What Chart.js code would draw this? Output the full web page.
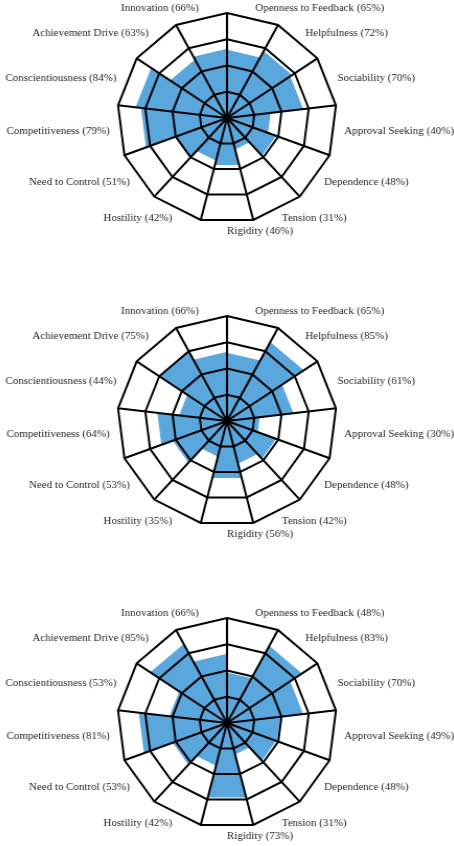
<!DOCTYPE html>
<html>
<head>
<meta charset="utf-8">
<title>Profile sector charts</title>
<script src="https://cdn.jsdelivr.net/npm/chart.js@4.4.0/dist/chart.umd.min.js"></script>
<style>
  html, body { margin: 0; padding: 0; background: #fff; overflow: hidden; }
  .wrap { position: relative; width: 454px; height: 846px; }
  .panel { position: absolute; left: 0; width: 454px; transform: scaleX(1.045); transform-origin: 227px 0; }
  .panel canvas { display: block; }
</style>
</head>
<body>
<div class="wrap">
  <div class="panel" style="top:0px;height:268px"><canvas id="chartTop" width="454" height="268"></canvas></div>
  <div class="panel" style="top:270px;height:300px"><canvas id="chartMiddle" width="454" height="300"></canvas></div>
  <div class="panel" style="top:572px;height:274px"><canvas id="chartBottom" width="454" height="274"></canvas></div>
</div>
<script>
// === Data (clockwise from the top spoke) ===
const categories = [
  'Openness to Feedback', 'Helpfulness', 'Sociability', 'Approval Seeking',
  'Dependence', 'Tension', 'Rigidity', 'Hostility', 'Need to Control',
  'Competitiveness', 'Conscientiousness', 'Achievement Drive', 'Innovation'
];
const valuesTop    = [65, 72, 70, 40, 48, 31, 46, 42, 51, 79, 84, 63, 66];
const valuesMiddle = [65, 85, 61, 30, 48, 42, 56, 35, 53, 64, 44, 75, 66];
const valuesBottom = [48, 83, 70, 49, 48, 31, 73, 42, 53, 81, 53, 85, 66];
const ringTicks = [0, 25, 50, 75, 100];

const FILL = '#5aa7de';
const INK = '#231f20';

// === Labels sit in the middle of each sector ===
const sectorLabels = {
  id: 'sectorLabels',
  afterDraw(chart, args, opts) {
    const scale = chart.scales.r;
    const ctx = chart.ctx;
    ctx.save();
    ctx.font = '10.5px "Liberation Serif"';
    ctx.fillStyle = INK;
    ctx.textBaseline = 'middle';
    categories.forEach((name, i) => {
      const p = scale.getPointPosition(i + 0.5, scale.drawingArea + 8);
      ctx.textAlign = p.x >= scale.xCenter - 0.5 ? 'left' : 'right';
      ctx.fillText(`${name} (${opts.values[i]}%)`, p.x, p.y);
    });
    ctx.restore();
  }
};

// one wedge per category: value on its two bounding spokes, zero elsewhere
function buildDatasets(values) {
  const n = categories.length;
  return values.map((v, i) => ({
    data: categories.map((_, j) => (j === i || j === (i + 1) % n) ? v : 0),
    backgroundColor: FILL,
    borderWidth: 0,
    pointRadius: 0,
    pointHitRadius: 0,
    fill: 'origin'
  }));
}

function buildChart(id, values, padTop, padBottom) {
  new Chart(document.getElementById(id), {
    type: 'radar',
    data: {
      labels: categories,
      datasets: buildDatasets(values)
    },
    options: {
      responsive: false,
      animation: false,
      layout: { padding: { top: padTop, bottom: padBottom, left: 0, right: 0 } },
      scales: {
        r: {
          min: ringTicks[0],
          max: ringTicks[ringTicks.length - 1],
          afterBuildTicks: (axis) => {
            axis.ticks = ringTicks.map(v => ({ value: v }));
          },
          ticks: { display: false, z: 1 },
          pointLabels: { display: false },
          // grid above the wedges
          grid: { color: '#000', lineWidth: 2, z: 1 },
          angleLines: { color: '#000', lineWidth: 2 }
        }
      },
      plugins: {
        legend: { display: false },
        tooltip: { enabled: false },
        sectorLabels: { values }
      }
    },
    plugins: [sectorLabels]
  });
}

buildChart('chartTop', valuesTop, 13, 45);
buildChart('chartMiddle', valuesMiddle, 46, 44);
buildChart('chartBottom', valuesBottom, 46, 18);
</script>
</body>
</html>
